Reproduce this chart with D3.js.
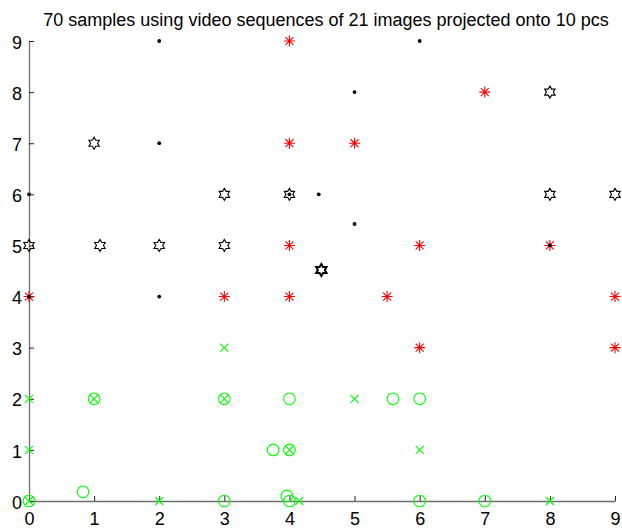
<!DOCTYPE html>
<html>
<head>
<meta charset="utf-8">
<script src="https://cdn.jsdelivr.net/npm/d3@7"></script>
<style>
  body { margin: 0; background: #fff; }
  text { font-family: "Liberation Sans", Arial, sans-serif; }
</style>
</head>
<body>
<svg id="chart" width="622" height="531"></svg>
<script>
// chart values
var title = "70 samples using video sequences of 21 images projected onto 10 pcs";
var xTicks = [0, 1, 2, 3, 4, 5, 6, 7, 8, 9];
var yTicks = [0, 1, 2, 3, 4, 5, 6, 7, 8, 9];

var blackDots = [[2, 9], [6, 9], [5, 8], [2, 7], [4.45, 6], [5, 5.42], [2, 4],
                 [0, 6], [4, 6], [8, 5], [0, 4]];
var hexagrams = [[1, 7], [8, 8], [3, 6], [4, 6], [8, 6], [9, 6], [0, 5],
                 [1.09, 5], [2, 5], [3, 5], [4.49, 4.52]];
var redStars = [[4, 9], [7, 8], [4, 7], [5, 7], [4, 5], [6, 5], [8, 5], [0, 4],
                [3, 4], [4, 4], [5.5, 4], [9, 4], [6, 3], [9, 3]];
var greenX = [[3, 3], [0, 2], [5, 2], [0, 1], [6, 1], [4, 1], [2, 0], [4.15, 0],
              [8, 0], [1, 2], [3, 2], [0, 0]];
var greenCircles = [[1, 2], [3, 2], [4, 2], [5.59, 2], [6, 2], [3.75, 1], [4, 1],
                    [0, 0], [0.83, 0.18], [3, 0], [3.96, 0.1], [4, 0], [6, 0], [7, 0]];

var chart = {};
chart.margin = {left: 29, right: 7, top: 41, bottom: 30};
chart.width = 622;
chart.height = 531;

var svg = d3.select("#chart");

var x = d3.scaleLinear().domain([0, 9])
    .range([chart.margin.left, chart.width - chart.margin.right]);
var y = d3.scaleLinear().domain([0, 9])
    .range([chart.height - chart.margin.bottom, chart.margin.top]);

// title
svg.append("text")
    .attr("x", 326)
    .attr("y", 25.5)
    .attr("text-anchor", "middle")
    .style("font-size", "18px")
    .text(title);

// axes (only left and bottom, ticks inward)
var xAxis = svg.append("g")
    .attr("transform", "translate(0," + y(0) + ")")
    .call(d3.axisBottom(x).tickValues(xTicks).tickSizeInner(-5).tickSizeOuter(0).tickPadding(11));
var yAxis = svg.append("g")
    .attr("transform", "translate(" + x(0) + ",0)")
    .call(d3.axisLeft(y).tickValues(yTicks).tickSizeInner(-5).tickSizeOuter(0).tickPadding(7));

[xAxis, yAxis].forEach(function(a) {
    a.select(".domain").attr("stroke", "#6e6e6e").attr("stroke-width", 1.3);
    a.selectAll(".tick line").attr("stroke", "#222");
    a.selectAll(".tick text").attr("fill", "#000").style("font-size", "18px")
        .style("font-family", "Liberation Sans, Arial, sans-serif");
});
xAxis.selectAll(".tick text").attr("dy", "0.71em");
yAxis.selectAll(".tick text").attr("dy", "0.4em");

var plot = svg.append("g");

// green circles
plot.selectAll(".circ").data(greenCircles).enter().append("circle")
    .attr("cx", function(d) { return x(d[0]); })
    .attr("cy", function(d) { return y(d[1]); })
    .attr("r", 5.8)
    .attr("fill", "none")
    .attr("stroke", "#00ff00")
    .attr("stroke-width", 1.1);

// green x marks
var xs = 4;
plot.selectAll(".xm").data(greenX).enter().append("path")
    .attr("d", function(d) {
        var cx = x(d[0]), cy = y(d[1]);
        return "M" + (cx - xs) + "," + (cy - xs) + "L" + (cx + xs) + "," + (cy + xs) +
               "M" + (cx - xs) + "," + (cy + xs) + "L" + (cx + xs) + "," + (cy - xs);
    })
    .attr("stroke", "#00ff00")
    .attr("stroke-width", 1.1)
    .attr("fill", "none");

// red asterisks
var as = 5.5;
plot.selectAll(".ast").data(redStars).enter().append("path")
    .attr("d", function(d) {
        var cx = x(d[0]), cy = y(d[1]), k = as * 0.72;
        return "M" + (cx - as) + "," + cy + "L" + (cx + as) + "," + cy +
               "M" + cx + "," + (cy - as) + "L" + cx + "," + (cy + as) +
               "M" + (cx - k) + "," + (cy - k) + "L" + (cx + k) + "," + (cy + k) +
               "M" + (cx - k) + "," + (cy + k) + "L" + (cx + k) + "," + (cy - k);
    })
    .attr("stroke", "#ff0000")
    .attr("stroke-width", 1.1)
    .attr("fill", "none");

// black hexagrams
function hexPath(cx, cy, r) {
    var pts = [];
    for (var i = 0; i < 12; i++) {
        var a = -Math.PI / 2 + i * Math.PI / 6;
        var rr = (i % 2 === 0) ? r : r / Math.sqrt(3);
        pts.push([cx + rr * Math.cos(a), cy + rr * Math.sin(a)]);
    }
    return "M" + pts.join("L") + "Z";
}
plot.selectAll(".hex").data(hexagrams).enter().append("path")
    .attr("d", function(d) { return hexPath(x(d[0]), y(d[1]), 6); })
    .attr("fill", "none")
    .attr("stroke", "#000")
    .attr("stroke-width", function(d, i) { return i === hexagrams.length - 1 ? 2 : 1.1; });

// black dots
plot.selectAll(".dot").data(blackDots).enter().append("circle")
    .attr("cx", function(d) { return x(d[0]); })
    .attr("cy", function(d) { return y(d[1]); })
    .attr("r", 1.9)
    .attr("fill", "#000");
</script>
</body>
</html>
